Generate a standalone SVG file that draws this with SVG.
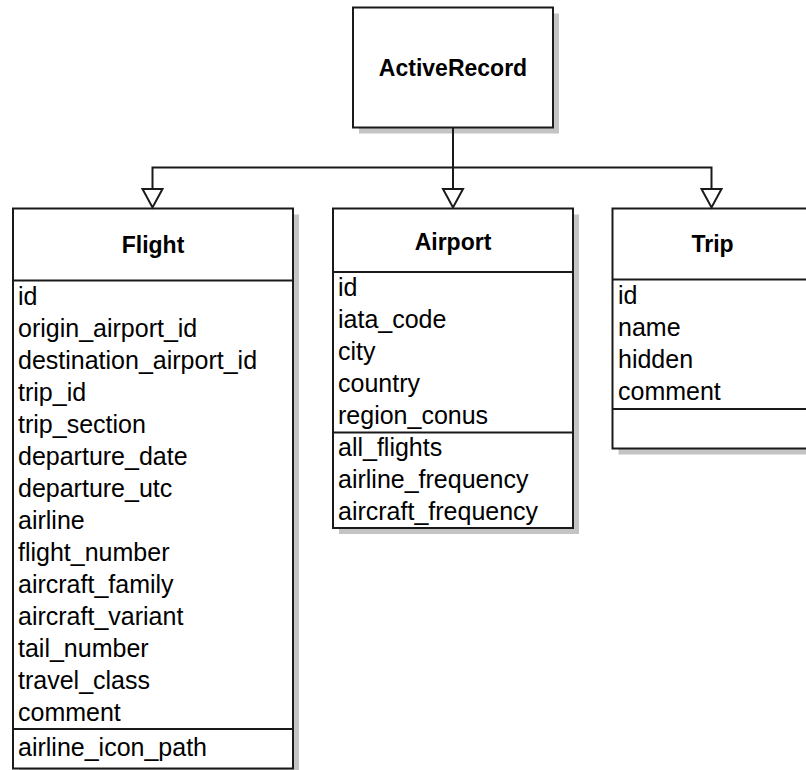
<svg xmlns="http://www.w3.org/2000/svg" width="806" height="770" viewBox="0 0 806 770">
  <defs>
    <style>
      .shadow { fill: #c4c4c4; stroke: none; }
      .box { fill: #ffffff; stroke: #1a1a1a; stroke-width: 2; }
      .div { stroke: #1a1a1a; stroke-width: 2; fill: none; }
      .title { font-family: "Liberation Sans", Arial, sans-serif; font-weight: bold; font-size: 23px; fill: #000; text-anchor: middle; }
      .attr { font-family: "Liberation Sans", Arial, sans-serif; font-size: 25px; fill: #000; }
      .edge { stroke: #1a1a1a; stroke-width: 2; fill: none; }
      .head { fill: #ffffff; stroke: #1a1a1a; stroke-width: 2; stroke-linejoin: miter; }
    </style>
  </defs>
  <rect width="806" height="770" fill="#ffffff"/>

  <g id="ActiveRecord">
    <rect class="shadow" x="359" y="13.5" width="200" height="120"/>
    <rect class="box" x="353" y="7.5" width="200" height="120"/>
    <text class="title" x="453" y="76">ActiveRecord</text>
  </g>

  <g id="Flight">
    <rect class="shadow" x="19" y="214.5" width="280" height="560"/>
    <rect class="box" x="13" y="208.5" width="280" height="560"/>
    <line class="div" x1="13" y1="280.5" x2="293" y2="280.5"/>
    <line class="div" x1="13" y1="729" x2="293" y2="729"/>
    <text class="title" x="153" y="253">Flight</text>
    <text class="attr" x="18" y="304.5">id</text>
    <text class="attr" x="18" y="336.5">origin_airport_id</text>
    <text class="attr" x="18" y="368.5">destination_airport_id</text>
    <text class="attr" x="18" y="400.5">trip_id</text>
    <text class="attr" x="18" y="432.5">trip_section</text>
    <text class="attr" x="18" y="464.5">departure_date</text>
    <text class="attr" x="18" y="496.5">departure_utc</text>
    <text class="attr" x="18" y="528.5">airline</text>
    <text class="attr" x="18" y="560.5">flight_number</text>
    <text class="attr" x="18" y="592.5">aircraft_family</text>
    <text class="attr" x="18" y="624.5">aircraft_variant</text>
    <text class="attr" x="18" y="656.5">tail_number</text>
    <text class="attr" x="18" y="688.5">travel_class</text>
    <text class="attr" x="18" y="720.5">comment</text>
    <text class="attr" x="18" y="756">airline_icon_path</text>
  </g>

  <g id="Airport">
    <rect class="shadow" x="339" y="214.5" width="240" height="319.5"/>
    <rect class="box" x="333" y="208.5" width="240" height="319.5"/>
    <line class="div" x1="333" y1="272" x2="573" y2="272"/>
    <line class="div" x1="333" y1="432.5" x2="573" y2="432.5"/>
    <text class="title" x="453" y="249.5">Airport</text>
    <text class="attr" x="338" y="296">id</text>
    <text class="attr" x="338" y="328">iata_code</text>
    <text class="attr" x="338" y="360">city</text>
    <text class="attr" x="338" y="392">country</text>
    <text class="attr" x="338" y="424">region_conus</text>
    <text class="attr" x="338" y="456">all_flights</text>
    <text class="attr" x="338" y="488">airline_frequency</text>
    <text class="attr" x="338" y="520">aircraft_frequency</text>
  </g>

  <g id="Trip">
    <rect class="shadow" x="618.5" y="214.5" width="200" height="240"/>
    <rect class="box" x="612.5" y="208.5" width="200" height="240"/>
    <line class="div" x1="612.5" y1="279.5" x2="812.5" y2="279.5"/>
    <line class="div" x1="612.5" y1="409" x2="812.5" y2="409"/>
    <text class="title" x="712.5" y="252">Trip</text>
    <text class="attr" x="618" y="304">id</text>
    <text class="attr" x="618" y="336">name</text>
    <text class="attr" x="618" y="368">hidden</text>
    <text class="attr" x="618" y="400">comment</text>
  </g>

  <g id="connectors">
    <path class="edge" d="M453 127.5 V189"/>
    <path class="edge" d="M152.5 189 V167.5 H711.5 V189"/>
    <polygon class="head" points="142.5,189 162.5,189 152.5,207.5"/>
    <polygon class="head" points="443,189 463,189 453,207.5"/>
    <polygon class="head" points="701.5,189 721.5,189 711.5,207.5"/>
  </g>
</svg>
